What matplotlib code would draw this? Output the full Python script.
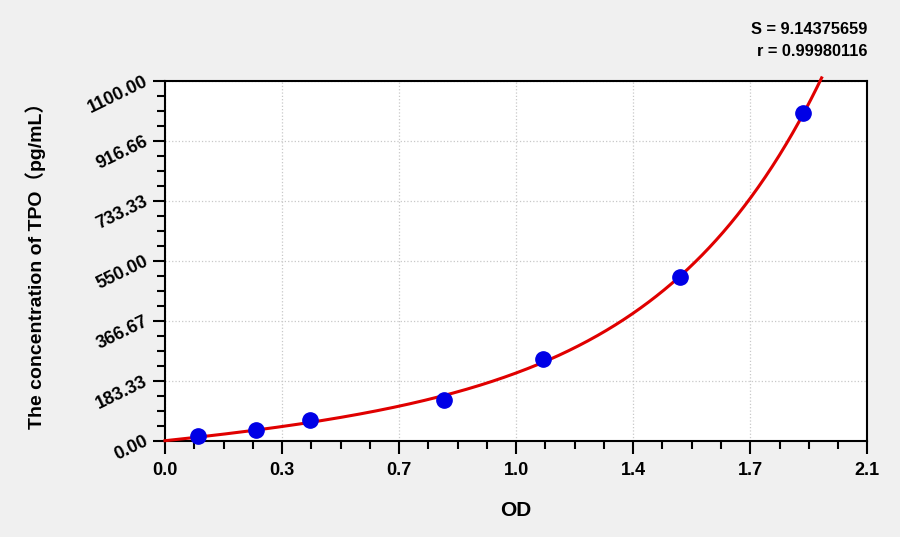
import numpy as np
import matplotlib
matplotlib.use("Agg")
import matplotlib.pyplot as plt
from matplotlib.ticker import MultipleLocator

# datos (curva estandar)
od = [0.098, 0.272, 0.434, 0.834, 1.131, 1.540, 1.909]
conc = [15.63, 31.25, 62.5, 125.0, 250.0, 500.0, 1000.0]

x_ticks = [0.0, 0.35, 0.7, 1.05, 1.4, 1.75, 2.1]
x_labels = ['0.0', '0.3', '0.7', '1.0', '1.4', '1.7', '2.1']
y_ticks = [0.0, 183.33, 366.67, 550.0, 733.33, 916.66, 1100.0]
y_labels = ['0.00', '183.33', '366.67', '550.00', '733.33', '916.66', '1100.00']

s_text = 'S = 9.14375659'
r_text = 'r = 0.99980116'

plt.rcParams['font.family'] = ['Liberation Sans', 'Noto Sans CJK SC', 'DejaVu Sans']
plt.rcParams['font.weight'] = 'bold'

fig = plt.figure(figsize=(9, 5.37), dpi=100, facecolor='#f0f0f0')
ax = fig.add_axes([0.1833, 0.1793, 0.7804, 0.6704])
ax.set_facecolor('white')

# curva ajustada: y = a*x + b*(exp(c*x) - 1), busqueda de c y minimos cuadrados
x_arr = np.array(od)
y_arr = np.array(conc)
mejor = None
for c in np.linspace(0.5, 4.0, 701):
    A = np.column_stack([x_arr, np.exp(c * x_arr) - 1])
    sol, res, rk, sv = np.linalg.lstsq(A, y_arr, rcond=None)
    err = np.sum((A @ sol - y_arr) ** 2)
    if mejor is None or err < mejor[0]:
        mejor = (err, c, sol)
_, c_fit, (a_fit, b_fit) = mejor

xs = np.linspace(0, 2.1, 800)
ys = a_fit * xs + b_fit * (np.exp(c_fit * xs) - 1)
keep = ys <= 1110
ax.plot(xs[keep], ys[keep], color='#e00000', lw=2.2, zorder=3, clip_on=False)

ax.plot(od, conc, 'o', color='#0000e6', markersize=11, zorder=4, clip_on=False)

ax.set_xlim(0, 2.1)
ax.set_ylim(0, 1100)
ax.set_xticks(x_ticks)
ax.set_xticklabels(x_labels)
ax.set_yticks(y_ticks)
ax.set_yticklabels(y_labels, rotation=26, ha='right', va='center',
                   rotation_mode='anchor')
ax.xaxis.set_minor_locator(MultipleLocator(0.0875))
ax.yaxis.set_minor_locator(MultipleLocator(1100 / 24))

ax.tick_params(which='major', direction='out', length=9, width=1.5,
               labelsize=13, pad=4)
ax.tick_params(which='minor', direction='out', length=6, width=1.5)
ax.tick_params(axis='x', pad=6)

for sp in ax.spines.values():
    sp.set_linewidth(1.5)
    sp.set_color('black')

ax.grid(True, which='major', color='#c8c8c8', linestyle=':', linewidth=0.9)
ax.set_axisbelow(True)

ax.set_xlabel('OD', fontsize=15, fontweight='bold', labelpad=16)
ax.set_ylabel('The concentration of TPO（pg/mL）', fontsize=14,
              fontweight='bold', labelpad=28)

fig.text(0.964, 0.945, s_text, ha='right', va='center', fontsize=11.8,
         fontweight='bold')
fig.text(0.964, 0.905, r_text, ha='right', va='center', fontsize=11.8,
         fontweight='bold')

plt.savefig('out.png', dpi=100, facecolor=fig.get_facecolor())
plt.close()
